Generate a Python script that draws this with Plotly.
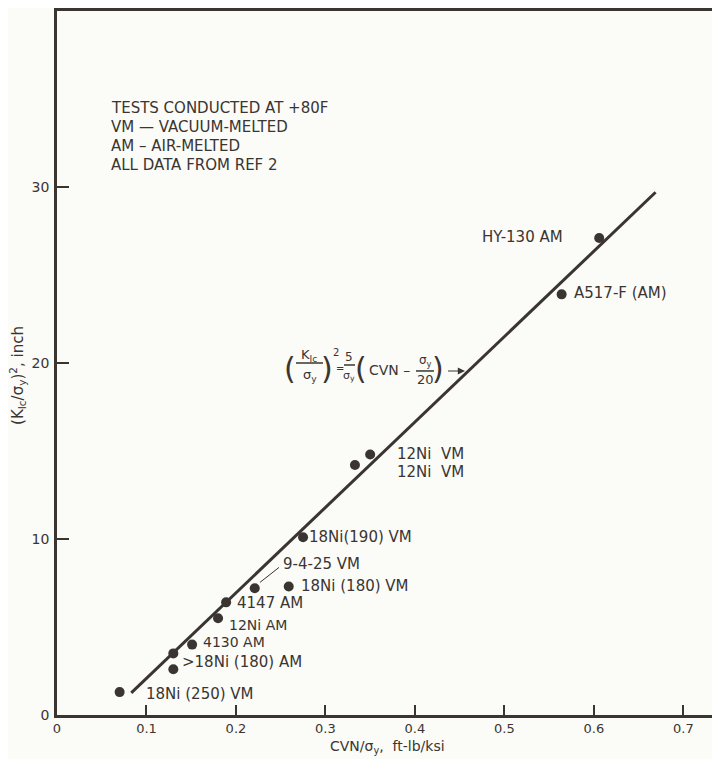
import plotly.graph_objects as go

# ---------------- data ----------------
steel_labels = ["18Ni (250) VM", "18Ni (180) AM", "18Ni (180) AM", "4130 AM", "12Ni AM",
                "4147 AM", "9-4-25 VM", "18Ni (180) VM", "18Ni(190) VM", "12Ni VM",
                "12Ni VM", "A517-F (AM)", "HY-130 AM"]
cvn_over_sy = [0.070, 0.130, 0.130, 0.151, 0.180, 0.189, 0.221, 0.259, 0.275, 0.333,
               0.350, 0.564, 0.606]
kic_over_sy_sq = [1.3, 3.5, 2.6, 4.0, 5.5, 6.4, 7.2, 7.3, 10.1, 14.2, 14.8, 23.9, 27.1]

fit_x = [0.083, 0.669]
fit_y = [1.26, 29.7]

x_ticks = [0, 0.1, 0.2, 0.3, 0.4, 0.5, 0.6, 0.7]
x_ticktext = ["0", "0.1", "0.2", "0.3", "0.4", "0.5", "0.6", "0.7"]
y_ticks = [0, 10, 20, 30]

notes = ["TESTS CONDUCTED AT +80F", "VM \u2014 VACUUM-MELTED", "AM \u2013 AIR-MELTED",
         "ALL DATA FROM REF 2"]

INK = "#3a3531"
BG = "#fbfbf8"
FONT = "DejaVu Sans"

# page offset of the plotly div (default body margin)
OFF = 8
# plot-area pixel geometry in page pixels (for text placement only)
L, R, T, B = 57, 720, 9, 715
FIG_W, FIG_H = 712, 751


def P(px, py):
    return (px - L) / (R - L), (B - py) / (B - T)


fig = go.Figure()

fig.add_trace(go.Scatter(x=fit_x, y=fit_y, mode="lines",
                         line=dict(color=INK, width=3), hoverinfo="skip", showlegend=False))
fig.add_trace(go.Scatter(x=cvn_over_sy, y=kic_over_sy_sq, mode="markers",
                         marker=dict(color=INK, size=10), text=steel_labels,
                         showlegend=False))

ann = []


def txt(text, px, py, size=15, xanchor="left", yanchor="middle"):
    x, y = P(px, py)
    ann.append(dict(text=text, x=x, y=y, xref="paper", yref="paper", showarrow=False,
                    xanchor=xanchor, yanchor=yanchor,
                    font=dict(family=FONT, size=size, color=INK)))


# note block
for i, n in enumerate(notes):
    txt(n, 109, 106 + i * 19.2, 15)

# point labels (pixel positions)
txt("HY-130 AM", 565, 236, 15, "right")
txt("A517-F (AM)", 572, 292)
txt("12Ni  VM", 395, 453)
txt("12Ni  VM", 395, 471)
txt("18Ni(190) VM", 307, 536)
txt("9-4-25 VM", 281, 564)
txt("18Ni (180) VM", 299, 586)
txt("4147 AM", 235, 603)
txt("12Ni AM", 227, 625, 14)
txt("4130 AM", 201, 642, 14)
txt("&gt;18Ni (180) AM", 180, 662)
txt("18Ni (250) VM", 144, 694)

# equation
txt("(", 290, 368, 30, "center")
txt("K<sub>Ic</sub>", 309, 354, 13, "center")
txt("\u03c3<sub>y</sub>", 310, 375, 13, "center")
txt(")", 327, 368, 30, "center")
txt("2", 336, 351, 10, "center")
txt("=", 340, 368, 10, "center")
txt("5", 349, 356, 12, "center")
txt("\u03c3<sub>y</sub>", 349, 375, 11, "center")
txt("(", 361, 368, 30, "center")
txt("CVN \u2013", 389, 369, 14, "center")
txt("\u03c3<sub>y</sub>", 425, 360, 12, "center")
txt("20", 425, 379, 13, "center")
txt(")", 438, 368, 30, "center")

shapes = []


def seg(p1, p2, w=1.5):
    x0, y0 = P(*p1)
    x1, y1 = P(*p2)
    shapes.append(dict(type="line", xref="paper", yref="paper", x0=x0, y0=y0, x1=x1, y1=y1,
                       line=dict(color=INK, width=w)))


seg((296, 362), (323, 362))
seg((344, 364), (355, 364))
seg((416, 370), (434, 370))
seg((260, 582), (279, 567), 1)

# arrow from equation to the line
hx, hy = P(465, 370)
ann.append(dict(x=hx, y=hy, xref="paper", yref="paper", ax=-20, ay=0, showarrow=True,
                arrowhead=2, arrowsize=1.2, arrowwidth=1.2, arrowcolor=INK, text=" ",
                font=dict(size=8)))

# axis titles
txt("CVN/\u03c3<sub>y</sub>,  ft-lb/ksi", 387, 747, 14, "center")
ax_x, ax_y = P(18, 375)
ann.append(dict(text="(K<sub>Ic</sub>/\u03c3<sub>y</sub>)<sup>2</sup>, inch", x=ax_x, y=ax_y,
                xref="paper", yref="paper", showarrow=False, textangle=-90,
                xanchor="center", yanchor="middle",
                font=dict(family=FONT, size=15, color=INK)))

fig.update_layout(
    width=FIG_W, height=FIG_H,
    margin=dict(l=L - OFF, r=FIG_W - (R - OFF), t=T - OFF, b=FIG_H - (B - OFF)),
    paper_bgcolor=BG, plot_bgcolor=BG,
    font=dict(family=FONT, size=13, color=INK),
    annotations=ann, shapes=shapes,
    xaxis=dict(range=[0, 0.741], tickvals=x_ticks, ticktext=x_ticktext,
               ticks="inside", ticklen=10, tickwidth=1.5, tickcolor=INK,
               showline=True, linecolor=INK, linewidth=2.5, mirror=True,
               showgrid=False, zeroline=False, tickfont=dict(size=13)),
    yaxis=dict(range=[0, 40], tickvals=y_ticks, ticks="inside", ticklen=12,
               tickwidth=1.5, tickcolor=INK, showline=True, linecolor=INK, linewidth=2.5,
               showgrid=False, zeroline=False, tickfont=dict(size=14), ticklabelstandoff=2),
)

fig.write_html("out.html")
